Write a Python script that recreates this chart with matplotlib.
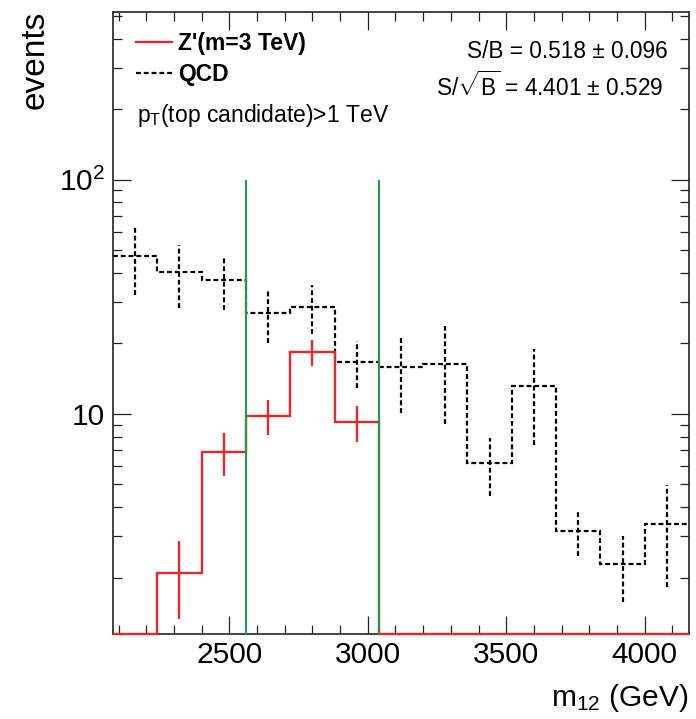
import numpy as np
import matplotlib
matplotlib.use("Agg")
import matplotlib.pyplot as plt
from matplotlib.lines import Line2D
from matplotlib.ticker import MultipleLocator, LogLocator, NullFormatter

plt.rcParams['font.family'] = ['Liberation Sans', 'DejaVu Sans']
plt.rcParams['mathtext.fontset'] = 'custom'
plt.rcParams['mathtext.rm'] = 'Liberation Sans'
plt.rcParams['mathtext.it'] = 'Liberation Sans:italic'
plt.rcParams['mathtext.bf'] = 'Liberation Sans:bold'

# bin edges of m12 (GeV)
edges = [2080, 2240, 2400, 2560, 2720, 2880, 3040, 3200, 3360, 3520, 3680, 3840, 4000, 4160]

# QCD background, events per bin and errors
qcd = [47.4, 40.4, 37.4, 26.9, 28.7, 16.7, 15.8, 16.4, 6.16, 13.1, 3.18, 2.29, 3.40]
qcd_err = [15.3, 12.0, 9.6, 6.9, 6.7, 3.75, 5.7, 7.3, 1.7, 5.75, 0.7, 0.72, 1.57]

# Z' signal, events per bin and errors (0 = empty bin)
sig = [0, 2.10, 6.86, 9.80, 18.4, 9.21, 0, 0, 0, 0, 0, 0, 0]
sig_err = [0, 0.77, 1.42, 1.67, 2.3, 1.64, 0, 0, 0, 0, 0, 0, 0]

# mass window
window = [2560, 3040]

ymin, ymax = 1.15, 520
red = '#e8262b'
green = '#23994a'
dash = (0, (2.2, 1.3))

edges = np.array(edges, dtype=float)
centers = 0.5 * (edges[1:] + edges[:-1])
qcd = np.array(qcd)
qcd_err = np.array(qcd_err)
sig = np.array(sig)
sig_err = np.array(sig_err)

fig = plt.figure(figsize=(6.96, 7.19), dpi=100)
ax = fig.add_axes([113 / 696, 1 - 634 / 719, 576 / 696, 622 / 719])
ax.set_yscale('log')

# QCD histogram
ax.stairs(qcd, edges, baseline=None, color='black', linewidth=1.6, linestyle=dash, zorder=3)
eb = ax.errorbar(centers, qcd, yerr=qcd_err, fmt='none', ecolor='black', elinewidth=1.6, zorder=3)
eb[2][0].set_linestyle(dash)

# signal histogram, empty bins drawn on the axis floor
sig_draw = np.where(sig > 0, sig, ymin)
ax.stairs(sig_draw, edges, baseline=None, color=red, linewidth=1.7, zorder=4, clip_on=False)
filled = sig > 0
ax.errorbar(centers[filled], sig[filled], yerr=sig_err[filled], fmt='none',
            ecolor=red, elinewidth=1.7, zorder=4)

ax.vlines(window, ymin, 100, color=green, linewidth=1.5, zorder=5)

ax.set_xlim(edges[0], edges[-1])
ax.set_ylim(ymin, ymax)
ax.set_xticks([2500, 3000, 3500, 4000])
ax.xaxis.set_minor_locator(MultipleLocator(100))
ax.set_yticks([10, 100])
ax.set_yticklabels(['10', r'$10^{2}$'])
ax.yaxis.set_minor_locator(LogLocator(base=10, subs=np.arange(2, 10)))
ax.yaxis.set_minor_formatter(NullFormatter())

ax.tick_params(which='both', direction='in', top=True, right=True, width=0.9, colors='#222222',
               labelcolor='black')
ax.tick_params(which='major', length=13, labelsize=21.5)
ax.tick_params(which='minor', length=6.5)
ax.tick_params(axis='x', which='major', pad=5)
ax.tick_params(axis='y', which='major', pad=6)
for s in ax.spines.values():
    s.set_linewidth(1.3)
    s.set_color('#333333')

handles = [Line2D([], [], color=red, linewidth=1.7),
           Line2D([], [], color='black', linewidth=1.6, linestyle=dash)]
ax.legend(handles, ["Z'(m=3 TeV)", 'QCD'], loc='upper left', bbox_to_anchor=(0.04, 0.968),
          frameon=False, prop={'weight': 'bold', 'size': 16.5}, handlelength=1.55,
          handletextpad=0.3, labelspacing=0.35, borderpad=0, borderaxespad=0)

ax.text(0.0417, 0.823, r'p$_{\mathrm{T}}$(top candidate)>1 TeV', transform=ax.transAxes,
        fontsize=16.5, va='baseline', ha='left')
ax.text(0.9635, 0.9256, 'S/B = 0.518 ± 0.096', transform=ax.transAxes,
        fontsize=16.3, va='baseline', ha='right')
ax.text(0.955, 0.865, r'S/$\sqrt{\mathrm{B}}$ = 4.401 ± 0.529', transform=ax.transAxes,
        fontsize=16.3, va='baseline', ha='right')

fig.text(688 / 696, 1 - 706 / 719, r'm$_{12}$ (GeV)', fontsize=21.5, ha='right', va='baseline')
fig.text(51 / 696, 1 - 11 / 719, 'events', fontsize=24, rotation=90, ha='right', va='top')

fig.savefig('out.png', dpi=100)
